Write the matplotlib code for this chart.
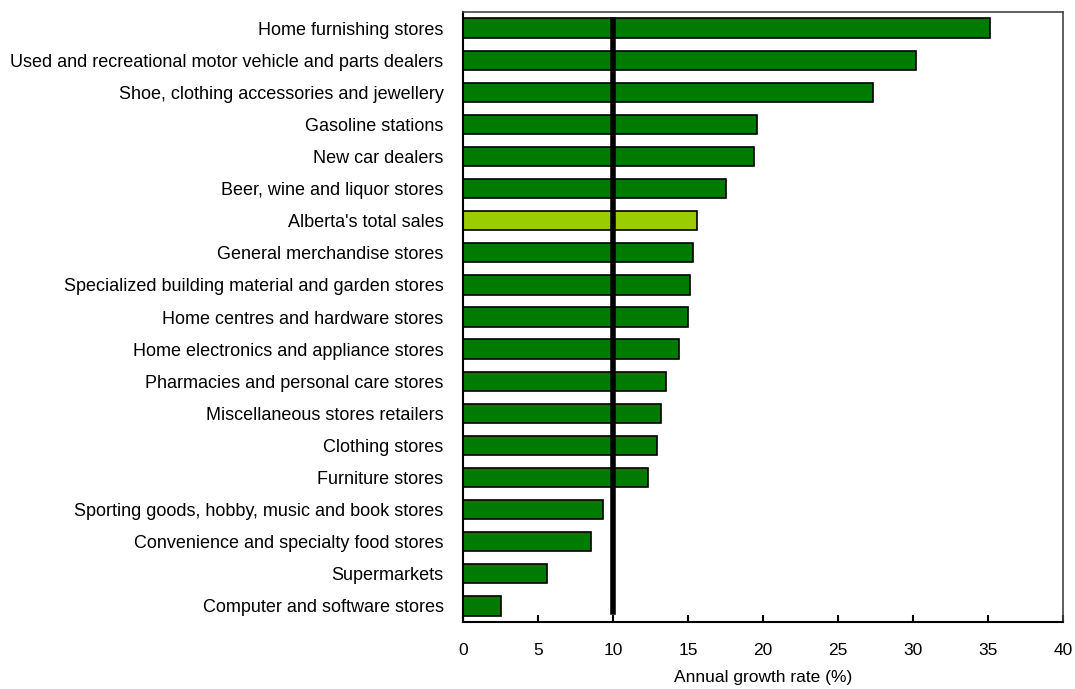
import matplotlib.pyplot as plt

plt.rcParams['font.family'] = ['Liberation Sans', 'DejaVu Sans']

# retail categories, top to bottom as in the chart
categories = ['Home furnishing stores',
              'Used and recreational motor vehicle and parts dealers',
              'Shoe, clothing accessories and jewellery',
              'Gasoline stations',
              'New car dealers',
              'Beer, wine and liquor stores',
              "Alberta's total sales",
              'General merchandise stores',
              'Specialized building material and garden stores',
              'Home centres and hardware stores',
              'Home electronics and appliance stores',
              'Pharmacies and personal care stores',
              'Miscellaneous stores retailers',
              'Clothing stores',
              'Furniture stores',
              'Sporting goods, hobby, music and book stores',
              'Convenience and specialty food stores',
              'Supermarkets',
              'Computer and software stores']

growth = [35.1, 30.2, 27.3, 19.6, 19.4, 17.5, 15.6, 15.3, 15.1, 15.0,
          14.4, 13.5, 13.2, 12.9, 12.3, 9.3, 8.5, 5.6, 2.5]

reference_line = 10
xticks = [0, 5, 10, 15, 20, 25, 30, 35, 40]

dark_green = '#007A00'
light_green = '#9ACC00'
colors = [light_green if c == "Alberta's total sales" else dark_green for c in categories]

fig = plt.figure(figsize=(10.75, 6.89), dpi=100)
ax = fig.add_axes([463 / 1075, 1 - 622 / 689, 600 / 1075, 610 / 689])

pos = list(range(len(categories)))
ax.barh(pos, growth, height=0.6, color=colors, edgecolor='black', linewidth=1.2, zorder=2)

# reference line at 10%
ax.axvline(reference_line, ymin=0.016, ymax=0.987, color='black', linewidth=4, zorder=3)

ax.set_xlim(0, 40)
ax.set_ylim(len(categories) - 0.5, -0.5)
ax.set_yticks(pos)
ax.set_yticklabels(categories, fontsize=13)
ax.set_xticks(xticks)
ax.set_xticklabels([str(t) for t in xticks], fontsize=12.5)

ax.tick_params(axis='y', length=0, pad=14)
ax.tick_params(axis='x', direction='in', length=5, width=1.5, pad=15)

ax.spines['left'].set_linewidth(1.5)
ax.spines['bottom'].set_linewidth(1.5)
ax.spines['top'].set_color('#444444')
ax.spines['right'].set_color('#444444')
ax.spines['top'].set_linewidth(1.2)
ax.spines['right'].set_linewidth(1.2)

ax.set_xlabel('Annual growth rate (%)', fontsize=12.5, labelpad=9)

fig.savefig('out.png', dpi=100)
